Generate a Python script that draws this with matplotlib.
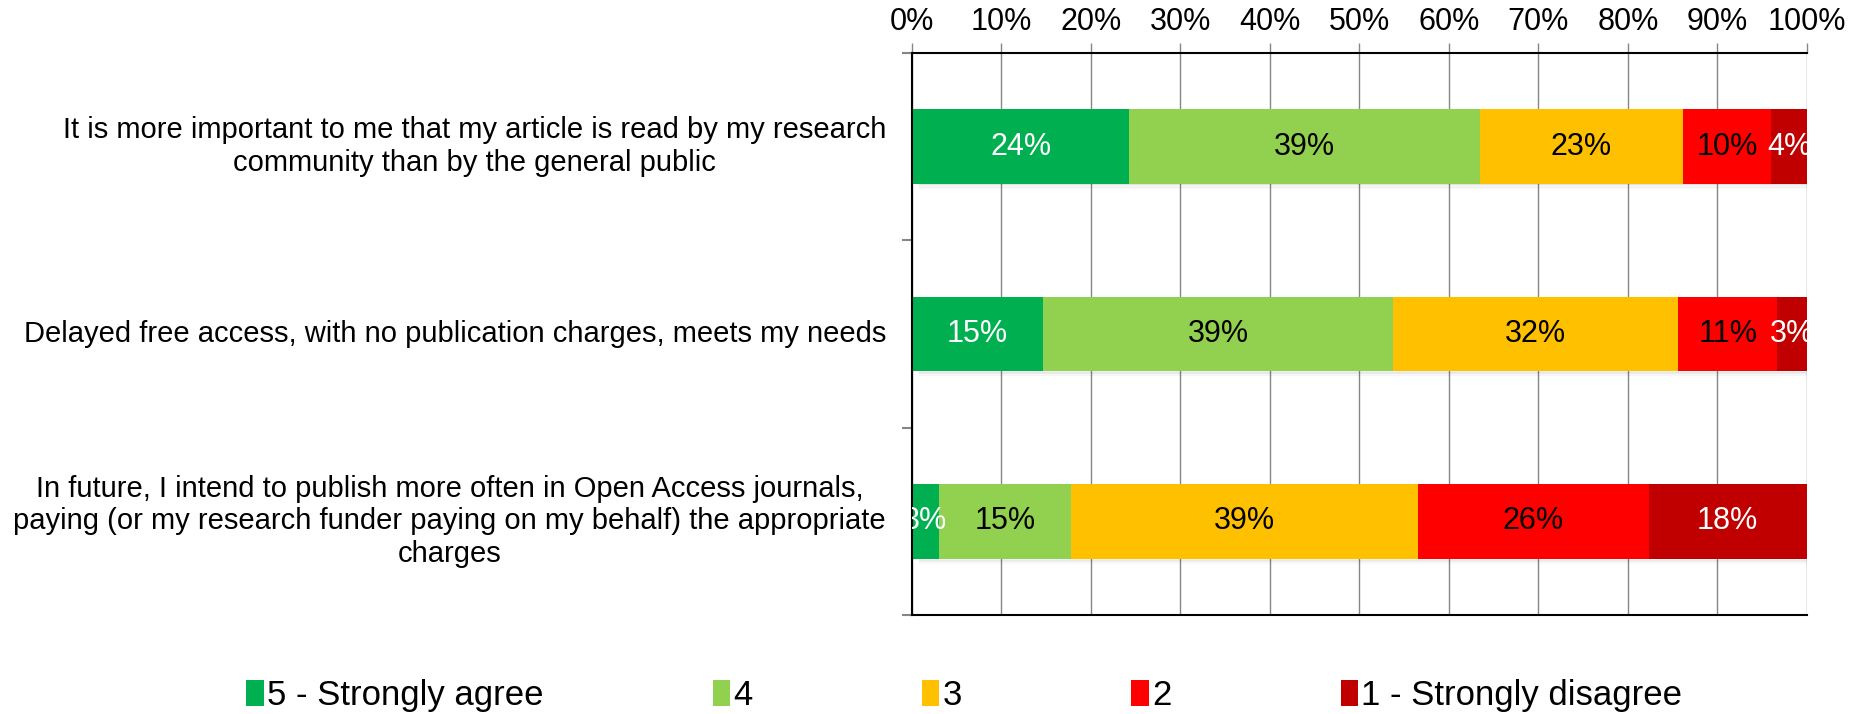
import matplotlib
matplotlib.use("Agg")
import matplotlib.pyplot as plt
import numpy as np

plt.rcParams['font.family'] = ['Liberation Sans', 'DejaVu Sans']

statements = [
    "It is more important to me that my article is read by my research\ncommunity than by the general public",
    "Delayed free access, with no publication charges, meets my needs",
    "In future, I intend to publish more often in Open Access journals,\npaying (or my research funder paying on my behalf) the appropriate\ncharges",
]
levels = ["5 - Strongly agree", "4", "3", "2", "1 - Strongly disagree"]
strongly_agree = [24.3, 14.6, 3.0]
agree = [39.2, 39.2, 14.8]
neutral = [22.6, 31.8, 38.7]
disagree = [9.9, 11.1, 25.8]
strongly_disagree = [4.0, 3.3, 17.7]
x_ticks = [0, 10, 20, 30, 40, 50, 60, 70, 80, 90, 100]

colors = ['#00B050', '#92D050', '#FFC000', '#FF0000', '#C00000']
label_colors = ['white', 'black', 'black', 'black', 'white']
series = [strongly_agree, agree, neutral, disagree, strongly_disagree]

fig = plt.figure(figsize=(18.51, 7.14), dpi=100)
ax = fig.add_axes([0.4927, 0.1387, 0.4835, 0.7871])

y = np.arange(len(statements))
bar_h = 0.4

# soft drop shadow under each bar
for k in range(8):
    ax.barh(y + bar_h / 2 + 0.004 * k, 99.5, left=0.8, height=0.006,
            color='black', alpha=0.06 * (8 - k) / 8, zorder=1.5, linewidth=0)

left = np.zeros(len(statements))
for vals, col, lc, name in zip(series, colors, label_colors, levels):
    vals = np.array(vals)
    ax.barh(y, vals, left=left, height=bar_h, color=col, label=name,
            zorder=2, linewidth=0)
    for yi, (l, v) in enumerate(zip(left, vals)):
        ax.text(l + v / 2, yi, f"{round(v)}%", ha='center', va='center',
                color=lc, fontsize=22, zorder=3, clip_on=True)
    left += vals

ax.set_xlim(0, 100)
ax.set_ylim(2.5, -0.5)
ax.xaxis.tick_top()
ax.set_xticks(x_ticks)
ax.set_xticklabels([f"{t}%" for t in x_ticks], fontsize=22)
ax.tick_params(axis='x', direction='out', length=7, width=1, color='#868686', pad=4.5)
ax.grid(axis='x', color='#868686', linewidth=1, zorder=0)
ax.set_axisbelow(True)

ax.set_yticks([-0.5, 0.5, 1.5, 2.5])
ax.set_yticklabels([])
ax.tick_params(axis='y', direction='out', length=7, width=1.5, color='#868686')
for yi, s in enumerate(statements):
    ax.text(-2.9, yi, s, ha='right', va='center', multialignment='center',
            fontsize=21, linespacing=1.2, transform=ax.transData)

for side in ['left', 'top', 'bottom']:
    ax.spines[side].set_color('black')
    ax.spines[side].set_linewidth(1.5)
ax.spines['right'].set_visible(False)

fig.legend(*ax.get_legend_handles_labels(), loc='center', bbox_to_anchor=(0.521, 0.026),
           ncol=5, frameon=False, fontsize=25, handlelength=0.5, handleheight=0.75,
           handletextpad=0.1, columnspacing=4.87)

fig.savefig("out.png", dpi=100)
